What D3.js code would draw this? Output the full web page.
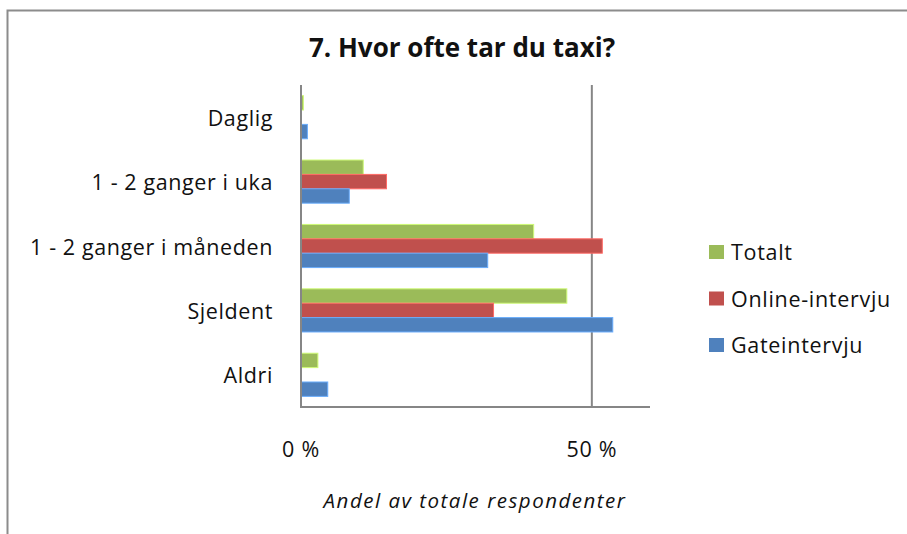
<!DOCTYPE html>
<html>
<head>
<meta charset="utf-8">
<script src="https://cdn.jsdelivr.net/npm/d3@7"></script>
<style>
  body { margin: 0; background: #fff; }
  svg { display: block; font-family: "Open Sans", Lato, sans-serif; }
</style>
</head>
<body>
<div id="chart"></div>
<script>
// Data
const categories = ['Daglig', '1 - 2 ganger i uka', '1 - 2 ganger i måneden', 'Sjeldent', 'Aldri'];
const seriesNames = ['Totalt', 'Online-intervju', 'Gateintervju'];
const totalt = [0.4, 10.7, 40.0, 45.7, 2.9];
const online = [0, 14.7, 51.8, 33.1, 0];
const gate = [1.1, 8.3, 32.1, 53.6, 4.6];
const tickValues = [0, 50];
const colors = ['#9BBB59', '#C0504D', '#4F81BD'];

const seriesValues = [totalt, online, gate];

const width = 907, height = 534;
const plot = { left: 301, right: 650, top: 85, bottom: 407 };
const labelFont = '21.5px';

const svg = d3.select('#chart')
    .append('svg')
    .attr('width', width)
    .attr('height', height);

svg.append('rect')
    .attr('width', width)
    .attr('height', height)
    .style('fill', '#fff');

// chart frame (only top and left edges visible in the crop)
svg.append('path')
    .attr('d', `M7.5,${height} V10.5 H${width}`)
    .style('fill', 'none')
    .style('stroke', '#8c8c8c')
    .style('stroke-width', 2);

// title
svg.append('text')
    .attr('x', 462)
    .attr('y', 57)
    .attr('text-anchor', 'middle')
    .style('font-size', '26px')
    .style('font-weight', 'bold')
    .style('fill', '#111')
    .text('7. Hvor ofte tar du taxi?');

// scales
const xScale = d3.scaleLinear()
    .domain([0, 60])
    .range([plot.left, plot.right]);

const yScale = d3.scaleBand()
    .domain(categories)
    .range([plot.top, plot.bottom])
    .paddingInner(0.33)
    .paddingOuter(0.165);

const ySub = d3.scaleBand()
    .domain(seriesNames)
    .range([0, yScale.bandwidth()]);

// gridline at 50 %
svg.append('line')
    .attr('x1', xScale(50))
    .attr('x2', xScale(50))
    .attr('y1', plot.top)
    .attr('y2', plot.bottom)
    .style('stroke', '#868686')
    .style('stroke-width', 2);

// bars
const barData = [];
categories.forEach((cat, i) => {
    seriesNames.forEach((s, j) => {
        barData.push({ cat, series: s, value: seriesValues[j][i], color: colors[j] });
    });
});

svg.selectAll('.bar')
    .data(barData.filter(d => d.value > 0))
    .enter()
    .append('rect')
    .attr('class', 'bar')
    .attr('x', xScale(0))
    .attr('y', d => yScale(d.cat) + ySub(d.series))
    .attr('width', d => xScale(d.value) - xScale(0))
    .attr('height', ySub.bandwidth())
    .style('fill', d => d.color)
    .style('stroke', d => d3.color(d.color).brighter(0.8))
    .style('stroke-width', 1);

// axes lines
svg.append('line')
    .attr('x1', xScale(0))
    .attr('x2', xScale(0))
    .attr('y1', plot.top)
    .attr('y2', plot.bottom)
    .style('stroke', '#868686')
    .style('stroke-width', 2);

svg.append('line')
    .attr('x1', xScale(0) - 1)
    .attr('x2', plot.right)
    .attr('y1', plot.bottom)
    .attr('y2', plot.bottom)
    .style('stroke', '#868686')
    .style('stroke-width', 2);

// category labels
svg.selectAll('.cat-label')
    .data(categories)
    .enter()
    .append('text')
    .attr('class', 'cat-label')
    .attr('x', 273)
    .attr('y', d => yScale(d) + yScale.bandwidth() / 2)
    .attr('dy', '0.4em')
    .attr('text-anchor', 'end')
    .style('font-size', labelFont)
    .style('letter-spacing', '0.6px')
    .style('fill', '#111')
    .text(d => d);

// tick labels
svg.selectAll('.tick-label')
    .data(tickValues)
    .enter()
    .append('text')
    .attr('class', 'tick-label')
    .attr('x', d => xScale(d))
    .attr('y', 457)
    .attr('text-anchor', 'middle')
    .style('font-size', labelFont)
    .style('letter-spacing', '0.7px')
    .style('fill', '#111')
    .text(d => `${d} %`);

// axis title
svg.append('text')
    .attr('x', 475)
    .attr('y', 508)
    .attr('text-anchor', 'middle')
    .style('font-size', '20.5px')
    .style('font-style', 'italic')
    .style('letter-spacing', '1.5px')
    .style('fill', '#111')
    .text('Andel av totale respondenter');

// legend
const legend = svg.selectAll('.legend')
    .data(seriesNames)
    .enter()
    .append('g')
    .attr('class', 'legend')
    .attr('transform', (d, i) => `translate(709, ${245 + i * 46.5})`);

legend.append('rect')
    .attr('width', 15)
    .attr('height', 14)
    .style('fill', (d, i) => colors[i]);

legend.append('text')
    .attr('x', 22)
    .attr('y', 15)
    .style('font-size', labelFont)
    .style('letter-spacing', '0.7px')
    .style('fill', '#111')
    .text(d => d);
</script>
</body>
</html>
